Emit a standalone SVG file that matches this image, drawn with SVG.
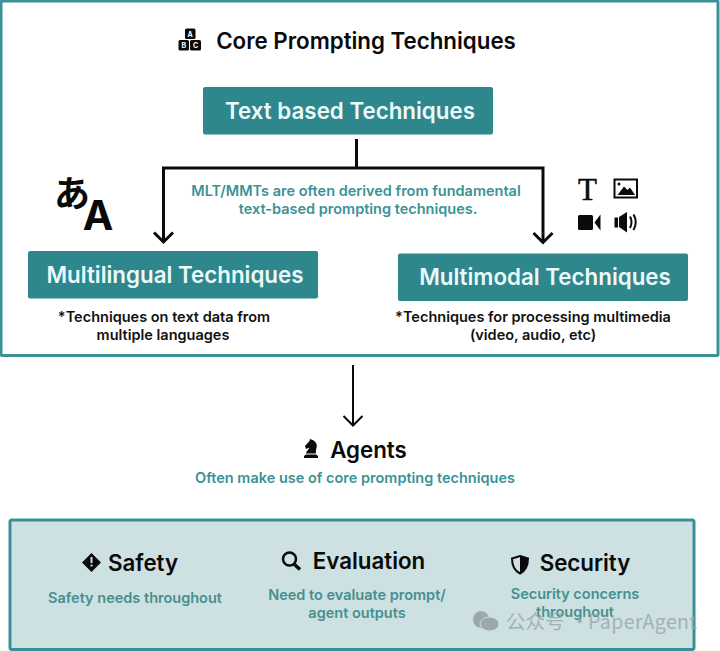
<svg xmlns="http://www.w3.org/2000/svg" width="720" height="651" viewBox="0 0 720 651">
<defs>
<style>
text{font-family:Inter,"Liberation Sans","Noto Sans CJK SC",sans-serif;font-weight:600;text-anchor:middle}
.btn{fill:#2e878d}
.bt{fill:#eafafa;font-size:22.350px}
.h{fill:#0a0a0a;font-size:22.300px}
.note{fill:#111;font-size:14.500px}
.teal{fill:#3a9297;font-size:14.500px}
.teal2{fill:#45908f;font-size:14.500px}
.line{fill:none;stroke:#0a0a0a;stroke-width:3}
.thin{fill:none;stroke:#0a0a0a;stroke-width:2}
.ic{fill:#0a0a0a}
</style>
</defs>
<rect width="720" height="651" fill="#fff"/>
<rect id="core-frame" x="1" y="1" width="717" height="354.500" fill="#fff" stroke="#3a9297" stroke-width="3" rx="1"/>
<rect id="lower-frame" x="10" y="520" width="684" height="129.500" rx="2" fill="#cde0e2" stroke="#3a8f96" stroke-width="3"/>

<g id="title">
<g class="ic">
<rect x="185" y="28.500" width="10.500" height="10.500" rx="1.500"/>
<rect x="178.500" y="40" width="10.500" height="10.500" rx="1.500"/>
<rect x="190" y="40" width="11" height="10.500" rx="1.500"/>
</g>
<text x="190" y="36.500" fill="#fff" style="font-size:7px;font-weight:700">A</text>
<text x="183.700" y="48" fill="#fff" style="font-size:7px;font-weight:700">B</text>
<text x="195.500" y="48" fill="#fff" style="font-size:7px;font-weight:700">C</text>
<text class="h" x="366" y="49">Core Prompting Techniques</text>
</g>

<g id="text-based">
<rect class="btn" x="203" y="87" width="290" height="47.500" rx="2"/>
<text class="bt" x="350" y="119">Text based Techniques</text>
</g>

<g id="connectors">
<path class="line" d="M356.500 139V168M543 242V168H163.500V242"/>
<path class="line" d="M154 232.500L163.500 242L173 232.500M533.500 233L543 242.500L552.500 233"/>
<path class="thin" d="M353 365V425M343.500 416L353 425.500L362.500 416"/>
</g>

<g id="derive-note">
<text class="teal" x="356" y="196">MLT/MMTs are often derived from fundamental</text>
<text class="teal" x="358" y="213.500">text-based prompting techniques.</text>
</g>

<g id="multilingual">
<text x="72" y="207" fill="#0a0a0a" style="font-size:36px;font-weight:700;font-family:'Noto Sans CJK JP',sans-serif">あ</text>
<text x="98" y="230" fill="#0a0a0a" style="font-size:41px;font-weight:700">A</text>
<rect class="btn" x="28" y="251" width="290" height="47.500" rx="2"/>
<text class="bt" x="175" y="283">Multilingual Techniques</text>
<text class="note" x="164" y="322">*Techniques on text data from</text>
<text class="note" x="163" y="340">multiple languages</text>
</g>

<g id="multimodal">
<text x="587.500" y="200" fill="#0a0a0a" style="font-size:31px;font-weight:400;font-family:'Liberation Serif',serif;stroke:#0a0a0a;stroke-width:.5px">T</text>
<rect x="614.500" y="179.500" width="22.500" height="18" fill="none" stroke="#0a0a0a" stroke-width="2"/>
<path class="ic" d="M617.500 195L624 186.500L627.500 190L630 187.500L635 195Z"/>
<circle class="ic" cx="619" cy="184" r="1.500"/>
<rect class="ic" x="578" y="215" width="15" height="15" rx="1.500"/>
<path class="ic" d="M600.500 214.500V230.500L594.500 222.500Z"/>
<path class="ic" d="M614.500 217.500H618V227.500H614.500ZM619 217L627 212V232.500L619 227Z"/>
<path class="thin" d="M630 216.500Q633 222 630 228M633.500 214.500Q638 222 633.500 230"/>
<rect class="btn" x="398" y="253.500" width="290" height="47.500" rx="2"/>
<text class="bt" x="545" y="285">Multimodal Techniques</text>
<text class="note" x="533" y="322">*Techniques for processing multimedia</text>
<text class="note" x="533" y="340">(video, audio, etc)</text>
</g>

<g id="agents">
<path class="ic" d="M304 458H318V456L316 454.500H306L304 456ZM306 453.500H316C315.500 449 317.500 447 316.500 444C315.500 441.500 313 439.500 310 439L309.500 441L305 446L306 449L309.500 447.500C309 449.500 306.500 450.500 306 453.500Z"/>
<text class="h" x="368.500" y="457.500">Agents</text>
<text class="teal" x="355" y="482.500">Often make use of core prompting techniques</text>
</g>

<g id="safety">
<path class="ic" d="M91.500 553L101 562.500L91.500 572L82 562.500Z"/>
<rect x="90.500" y="557" width="2" height="6" fill="#cde0e2"/>
<rect x="90.500" y="564.500" width="2" height="2" fill="#cde0e2"/>
<text class="h" x="143" y="571">Safety</text>
<text class="teal2" x="135" y="603">Safety needs throughout</text>
</g>

<g id="evaluation">
<circle cx="289.500" cy="559" r="6.500" fill="none" stroke="#0a0a0a" stroke-width="2.500"/>
<path d="M294 564L300 569.500" stroke="#0a0a0a" stroke-width="3.500" fill="none"/>
<text class="h" x="369" y="569">Evaluation</text>
<text class="teal2" x="357" y="600">Need to evaluate prompt/</text>
<text class="teal2" x="357" y="617.500">agent outputs</text>
</g>

<g id="security">
<path d="M520 556L528 558.500C528 566 526 570.500 520 573.500C514 570.500 512 566 512 558.500Z" fill="#cde0e2" stroke="#0a0a0a" stroke-width="2"/>
<path class="ic" d="M520 556L528 558.500C528 566 526 570.500 520 573.500Z"/>
<text class="h" x="585" y="571">Security</text>
<text class="teal2" x="575" y="599">Security concerns</text>
<text class="teal2" x="575" y="616.500">throughout</text>
</g>

<g id="watermark" opacity="0.8">
<ellipse cx="481" cy="619.500" rx="8" ry="8.500" fill="#8f9c9d"/>
<ellipse cx="489.500" cy="624" rx="9.500" ry="7" fill="#8f9c9d" stroke="#cde0e2"/>
<text y="629" fill="#9aa6a7" style="font-size:19.500px;font-weight:400;text-anchor:start;font-family:'Noto Sans CJK SC',sans-serif"><tspan x="506">公众号</tspan><tspan x="570">·</tspan><tspan x="588" letter-spacing=".4">PaperAgent</tspan></text>
</g>
</svg>
